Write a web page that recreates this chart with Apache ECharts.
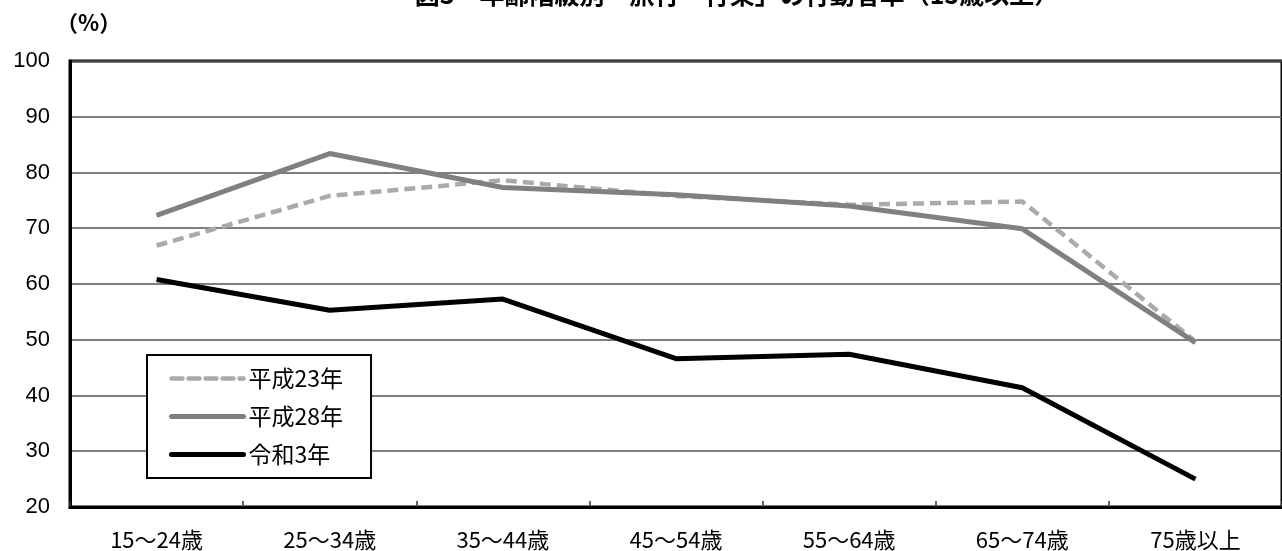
<!DOCTYPE html>
<html>
<head>
<meta charset="utf-8">
<script src="https://cdn.jsdelivr.net/npm/echarts@6/dist/echarts.min.js"></script>
<style>
html,body{margin:0;padding:0;background:#fff;}
#c{width:1282px;height:551px;}
</style>
</head>
<body>
<div id="c"></div>
<script>
const titleText = '図3　年齢階級別「旅行・行楽」の行動者率（15歳以上）';
const unitLabel = '（%）';
const categories = ['15～24歳','25～34歳','35～44歳','45～54歳','55～64歳','65～74歳','75歳以上'];
const seriesNames = ['平成23年','平成28年','令和3年'];
const h23 = [66.9, 75.8, 78.6, 75.8, 74.2, 74.8, 49.7];
const h28 = [72.3, 83.4, 77.3, 76.0, 74.0, 69.9, 49.5];
const r3  = [60.8, 55.3, 57.3, 46.6, 47.4, 41.4, 25.0];
const yTicks = {min: 20, max: 100, interval: 10};

const styles = [
  {color: '#aaaaaa', width: 4.5, type: [11, 6]},
  {color: '#808080', width: 5, type: 'solid'},
  {color: '#000000', width: 5, type: 'solid'}
];

const chart = echarts.init(document.getElementById('c'));
const font = '"Noto Sans CJK JP", "Liberation Sans", sans-serif';
chart.setOption({
  animation: false,
  backgroundColor: '#fff',
  title: {
    text: titleText,
    left: 732, textAlign: 'center',
    top: -23,
    textStyle: {fontFamily: font, fontSize: 25, fontWeight: 'bold', color: '#000'}
  },
  graphic: [{
    type: 'text', left: 56, top: 12,
    style: {text: unitLabel, font: 'bold 22px "Noto Sans CJK JP", sans-serif', fill: '#000'}
  }],
  grid: {
    left: 70, top: 61, width: 1223, height: 447,
    show: true, borderColor: '#000', borderWidth: 3, containLabel: false
  },
  legend: {
    data: seriesNames.map((n, i) => ({
      name: n,
      itemStyle: {opacity: 0},
      lineStyle: {color: styles[i].color, width: styles[i].width, type: styles[i].type, cap: 'round'}
    })),
    orient: 'vertical',
    left: 147, top: 355,
    backgroundColor: '#fff',
    borderColor: '#000', borderWidth: 2, borderRadius: 0,
    padding: [12, 28, 12, 22],
    itemWidth: 72, itemHeight: 14, itemGap: 15,
    textStyle: {fontFamily: font, fontSize: 23, color: '#000'}
  },
  xAxis: {
    type: 'category',
    data: categories,
    boundaryGap: true,
    axisLine: {lineStyle: {color: '#000', width: 3}},
    axisTick: {show: true, inside: true, length: 6, lineStyle: {color: '#333', width: 1.5}},
    axisLabel: {margin: 22, fontFamily: font, fontSize: 22, color: '#000'},
    splitLine: {show: false}
  },
  yAxis: {
    type: 'value',
    min: yTicks.min, max: yTicks.max, interval: yTicks.interval,
    axisLine: {show: true, lineStyle: {color: '#000', width: 3}},
    axisTick: {show: false},
    axisLabel: {margin: 20, fontFamily: '"Liberation Sans", Arial, sans-serif', fontSize: 22, color: '#000'},
    splitLine: {lineStyle: {color: '#555', width: 1.5}}
  },
  series: [
    {name: seriesNames[0], type: 'line', data: h23, symbol: 'none',
     lineStyle: styles[0], itemStyle: {color: styles[0].color}, z: 2},
    {name: seriesNames[1], type: 'line', data: h28, symbol: 'none',
     lineStyle: styles[1], itemStyle: {color: styles[1].color}, z: 3},
    {name: seriesNames[2], type: 'line', data: r3, symbol: 'none',
     lineStyle: styles[2], itemStyle: {color: styles[2].color}, z: 4}
  ]
});
</script>
</body>
</html>
